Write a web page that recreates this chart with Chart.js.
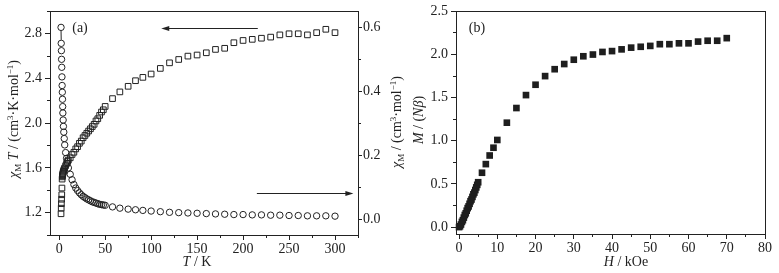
<!DOCTYPE html>
<html>
<head>
<meta charset="utf-8">
<script src="https://cdn.jsdelivr.net/npm/chart.js@4/dist/chart.umd.min.js"></script>
<style>
  html, body { margin: 0; padding: 0; background: #fff; }
  #wrap { position: relative; width: 779px; height: 273px; }
  #c1 { position: absolute; left: 0; top: 0; }
  #c2 { position: absolute; left: 410px; top: 0; }
  .warm { position: absolute; left: -999px; top: 0; font-family: "Liberation Serif"; }
</style>
</head>
<body>
<div id="wrap">
  <canvas id="c1" width="410" height="273"></canvas>
  <canvas id="c2" width="369" height="273"></canvas>
</div>
<span class="warm">0.5 χβ</span><span class="warm" style="font-style:italic">T H χ</span>
<script>
// (a) temperature sweep: chiM*T (squares, left axis) and chiM (circles, right axis)
const temperatureK = [2, 2.2, 2.4, 2.6, 2.8, 3, 3.2, 3.4, 3.6, 3.8, 4, 4.3, 4.6, 5, 5.5, 6, 7, 8, 9, 10,
  12, 14, 16, 18, 20, 22, 24, 26, 28, 30, 32, 34, 36, 38, 40, 42, 44, 46, 48, 50,
  58, 66, 75, 83, 91, 100, 110, 120, 130, 140, 150, 160, 170, 180, 190, 200,
  210, 220, 230, 240, 250, 260, 270, 280, 290, 300];
const chiMT = [1.19, 1.24, 1.28, 1.32, 1.36, 1.42, 1.50, 1.52, 1.53, 1.54, 1.55, 1.56, 1.57, 1.58, 1.59, 1.60, 1.62, 1.64, 1.66, 1.67,
  1.69, 1.72, 1.74, 1.77, 1.79, 1.82, 1.84, 1.87, 1.89, 1.91, 1.93, 1.95, 1.97, 1.99, 2.02, 2.04, 2.07, 2.10, 2.12, 2.15,
  2.22, 2.28, 2.33, 2.38, 2.41, 2.44, 2.49, 2.54, 2.57, 2.60, 2.61, 2.63, 2.66, 2.67, 2.72, 2.74,
  2.75, 2.76, 2.77, 2.79, 2.80, 2.80, 2.79, 2.81, 2.84, 2.81];
const chiM = [0.600, 0.550, 0.527, 0.500, 0.475, 0.445, 0.418, 0.397, 0.375, 0.352, 0.332, 0.310, 0.290, 0.272, 0.252, 0.232, 0.208, 0.190, 0.175, 0.160,
  0.140, 0.123, 0.108, 0.097, 0.089, 0.082, 0.076, 0.071, 0.067, 0.063, 0.060, 0.057, 0.054, 0.052, 0.050, 0.048, 0.046, 0.045, 0.044, 0.043,
  0.038, 0.034, 0.031, 0.029, 0.027, 0.025, 0.023, 0.021, 0.020, 0.019, 0.018, 0.017, 0.016, 0.015, 0.014, 0.014,
  0.013, 0.013, 0.012, 0.012, 0.011, 0.011, 0.010, 0.010, 0.010, 0.009];

// (b) field sweep
const fieldKOe = [0, 0.25, 0.5, 0.75, 1, 1.25, 1.5, 1.75, 2, 2.25, 2.5, 2.75, 3, 3.25, 3.5, 3.75, 4, 4.25, 4.5, 4.75, 5,
  6, 7, 8, 9, 10, 12.5, 15, 17.5, 20, 22.5, 25, 27.5, 30, 32.5, 35, 37.5, 40, 42.5, 45, 47.5, 50,
  52.5, 55, 57.5, 60, 62.5, 65, 67.5, 70];
const magnetization = [0.00, 0.01, 0.03, 0.06, 0.08, 0.11, 0.14, 0.16, 0.19, 0.22, 0.24, 0.27, 0.30, 0.32, 0.35, 0.38, 0.40, 0.43, 0.46, 0.49, 0.52,
  0.63, 0.73, 0.83, 0.92, 1.01, 1.21, 1.38, 1.53, 1.65, 1.75, 1.83, 1.89, 1.94, 1.98, 2.00, 2.03, 2.04, 2.06, 2.08, 2.09, 2.10,
  2.12, 2.12, 2.13, 2.13, 2.15, 2.16, 2.16, 2.19];

// tick labels
const tTicks = [0, 50, 100, 150, 200, 250, 300];
const tMinor = [25, 75, 125, 175, 225, 275, 325];
const chiMTTicks = [1.2, 1.6, 2.0, 2.4, 2.8];
const chiMTMinor = [1.0, 1.4, 1.8, 2.2, 2.6, 3.0];
const chiMTicks = [0.0, 0.2, 0.4, 0.6];
const chiMMinor = [0.1, 0.3, 0.5];
const hTicks = [0, 10, 20, 30, 40, 50, 60, 70, 80];
const hMinor = [5, 15, 25, 35, 45, 55, 65, 75];
const mTicks = [0.0, 0.5, 1.0, 1.5, 2.0, 2.5];
const mMinor = [0.25, 0.75, 1.25, 1.75, 2.25];

const INK = '#222';
const SERIF = '"Liberation Serif", serif';
const f = (size, style) => (style ? style + ' ' : '') + size + 'px ' + SERIF;
const px = p => Math.round(p - 0.5) + 0.5;

// text made of runs: [text, font, dy]
function drawRich(ctx, runs, x, y, rot) {
  ctx.save();
  ctx.translate(x, y);
  ctx.rotate(rot || 0);
  let total = 0;
  runs.forEach(r => { ctx.font = r[1]; total += ctx.measureText(r[0]).width; });
  let cx = -total / 2;
  ctx.textBaseline = 'alphabetic';
  ctx.textAlign = 'left';
  runs.forEach(r => {
    ctx.font = r[1];
    ctx.fillText(r[0], cx, r[2] || 0);
    cx += ctx.measureText(r[0]).width;
  });
  ctx.restore();
}

const decor = {
  id: 'decor',
  afterDraw(chart, args, opts) {
    const ctx = chart.ctx, a = chart.chartArea;
    ctx.save();
    ctx.strokeStyle = INK;
    ctx.fillStyle = INK;
    ctx.lineWidth = 1;
    ctx.strokeRect(px(a.left), px(a.top), Math.round(a.right - a.left), Math.round(a.bottom - a.top));

    (opts.minor || []).forEach(([id, values]) => {
      const s = chart.scales[id];
      values.forEach(v => {
        const p = px(s.getPixelForValue(v));
        ctx.beginPath();
        if (s.position === 'bottom') { ctx.moveTo(p, a.bottom); ctx.lineTo(p, a.bottom + 3); }
        else if (s.position === 'left') { ctx.moveTo(a.left, p); ctx.lineTo(a.left - 3, p); }
        else { ctx.moveTo(a.right, p); ctx.lineTo(a.right + 3, p); }
        ctx.stroke();
      });
    });

    (opts.arrows || []).forEach(ar => {
      const ys = chart.scales[ar.axis];
      const x1 = chart.scales.x.getPixelForValue(ar.from);
      const x2 = chart.scales.x.getPixelForValue(ar.to);
      const y = px(ys.getPixelForValue(ar.at));
      const dir = Math.sign(x2 - x1);
      ctx.beginPath();
      ctx.moveTo(x1, y);
      ctx.lineTo(x2 - dir * 6, y);
      ctx.stroke();
      ctx.beginPath();
      ctx.moveTo(x2, y);
      ctx.lineTo(x2 - dir * 8, y - 2.5);
      ctx.lineTo(x2 - dir * 8, y + 2.5);
      ctx.closePath();
      ctx.fill();
    });

    // short joining stroke between the first two chiM circles
    if (opts.joinFirst) {
      const m = chart.getDatasetMeta(opts.joinFirst);
      const p0 = m.data[0], p1 = m.data[1];
      if (p0 && p1) {
        ctx.beginPath();
        ctx.moveTo(p0.x, p0.y + 3.5);
        ctx.lineTo(p1.x, p1.y - 3.5);
        ctx.stroke();
      }
    }

    (opts.texts || []).forEach(t => drawRich(ctx, t.runs, t.x, t.y, t.rot));
    ctx.restore();
  }
};

function axis(pos, min, max, ticks, size, digits, tickLen, pad) {
  return {
    type: 'linear',
    position: pos,
    min: min,
    max: max,
    afterBuildTicks: s => { s.ticks = ticks.map(v => ({ value: v })); },
    afterFit: s => { if (pos === 'bottom') s.height = size; else s.width = size; },
    grid: { drawOnChartArea: false, drawTicks: true, tickLength: tickLen || 5, color: INK, lineWidth: 1 },
    border: { display: true, color: INK, width: 1 },
    ticks: {
      color: INK,
      font: { family: SERIF, size: 14 },
      padding: pad === undefined ? 3 : pad,
      autoSkip: false,
      maxRotation: 0,
      callback: v => Number(v).toFixed(digits)
    }
  };
}

const pts = (xs, ys) => xs.map((x, i) => ({ x: x, y: ys[i] }));

const common = {
  responsive: false,
  animation: false,
  events: [],
  plugins: { legend: { display: false }, tooltip: { enabled: false } }
};

function build() {
  Chart.defaults.font.family = SERIF;

  new Chart(document.getElementById('c1'), {
    type: 'scatter',
    data: {
      datasets: [
        {
          data: pts(temperatureK, chiMT), yAxisID: 'y',
          pointStyle: 'rect', pointRadius: 4, borderWidth: 1,
          borderColor: INK, backgroundColor: 'rgba(255,255,255,0)', clip: false
        },
        {
          data: pts(temperatureK, chiM), yAxisID: 'y1',
          pointStyle: 'circle', pointRadius: 3.2, borderWidth: 1,
          borderColor: INK, backgroundColor: 'rgba(255,255,255,0)', clip: false
        }
      ]
    },
    options: Object.assign({}, common, {
      layout: { padding: { top: 11, left: 0, right: 0, bottom: 0 } },
      scales: {
        x: axis('bottom', -10, 325, tTicks, 38, 0, 5, 1),
        y: axis('left', 1.0, 3.0, chiMTTicks, 50, 1, 5, 3),
        y1: axis('right', -0.05, 0.65, chiMTicks, 52, 1, 4, 1)
      },
      plugins: Object.assign({}, common.plugins, {
        decor: {
          minor: [['x', tMinor], ['y', chiMTMinor], ['y1', chiMMinor]],
          arrows: [
            { from: 216, to: 111, at: 2.848, axis: 'y' },
            { from: 215, to: 320, at: 0.081, axis: 'y1' }
          ],
          joinFirst: 1,
          texts: [
            { x: 80, y: 32, runs: [['(a)', f(14)]] },
            { x: 197, y: 266, runs: [['T', f(14, 'italic')], [' / K', f(14)]] },
            { x: 18, y: 119, rot: -Math.PI / 2, runs: [
              ['χ', f(14, 'italic')], ['M', f(9), 3], [' ', f(14)], ['T', f(14, 'italic')],
              [' / (cm', f(14)], ['3', f(9), -5], ['·K·mol', f(14)], ['−1', f(9), -5], [')', f(14)]
            ] },
            { x: 401, y: 122, rot: -Math.PI / 2, runs: [
              ['χ', f(14, 'italic')], ['M', f(9), 3], [' / (cm', f(14)], ['3', f(9), -5],
              ['·mol', f(14)], ['−1', f(9), -5], [')', f(14)]
            ] }
          ]
        }
      })
    }),
    plugins: [decor]
  });

  new Chart(document.getElementById('c2'), {
    type: 'scatter',
    data: {
      datasets: [{
        data: pts(fieldKOe, magnetization),
        pointStyle: 'rect', pointRadius: 4.7, borderWidth: 0,
        borderColor: INK, backgroundColor: '#1e1e1e', clip: false
      }]
    },
    options: Object.assign({}, common, {
      layout: { padding: { top: 10, left: 0, right: 14, bottom: 0 } },
      scales: {
        x: axis('bottom', -0.8, 80, hTicks, 39, 0, 5, 1),
        y: axis('left', -0.08, 2.5, mTicks, 46, 1, 5, 3)
      },
      plugins: Object.assign({}, common.plugins, {
        decor: {
          minor: [['x', hMinor], ['y', mMinor]],
          texts: [
            { x: 67, y: 32, runs: [['(b)', f(14)]] },
            { x: 216, y: 266, runs: [['H', f(14, 'italic')], [' / kOe', f(14)]] },
            { x: 13, y: 120, rot: -Math.PI / 2, runs: [
              ['M', f(14, 'italic')], [' / (', f(14)], ['N', f(14, 'italic')], ['β', f(14, 'italic')], [')', f(14)]
            ] }
          ]
        }
      })
    }),
    plugins: [decor]
  });
}

Promise.all([
  document.fonts.load('13px "Liberation Serif"'),
  document.fonts.load('italic 14px "Liberation Serif"')
]).then(build, build);
</script>
</body>
</html>
